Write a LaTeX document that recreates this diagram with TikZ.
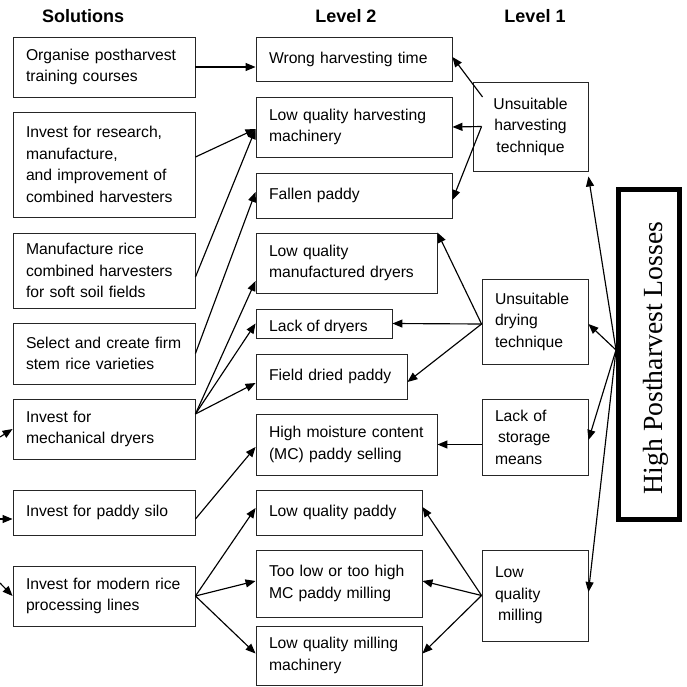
\documentclass[tikz,border=0pt]{standalone}
\usepackage{fontspec}
\setmainfont{Liberation Sans}
\newfontfamily\timesfont{Liberation Serif}
\usetikzlibrary{arrows.meta}
\begin{document}
\begin{tikzpicture}[x=1pt,y=-1pt,
  box/.style={draw=black!85, line width=0.9pt, rectangle, inner xsep=13pt, inner ysep=0pt,
    align=left, font=\fontsize{15.7}{21.5}\selectfont},
  head/.style={anchor=base, font=\bfseries\fontsize{18}{20}\selectfont},
  arr/.style={-{Triangle[length=10pt,width=8pt]}, line width=1.15pt}]
\useasboundingbox (0,0) rectangle (687,687);

% column headings
\node[head] (hsol) at (83,23) {Solutions};
\node[head] (hl2) at (346,23) {Level 2};
\node[head] (hl1) at (535,23) {Level 1};

% solutions
\node[box, minimum width=182, minimum height=60, text width=156] (org) at (104,67) {Organise postharvest\\training courses};
\node[box, minimum width=182, minimum height=105, text width=156] (res) at (104,164.5) {Invest for research,\\manufacture,\\and improvement of\\combined harvesters};
\node[box, minimum width=182, minimum height=75, text width=156] (man) at (104,270.5) {Manufacture rice\\combined harvesters\\for soft soil fields};
\node[box, minimum width=182, minimum height=61, text width=156] (sel) at (104,353.5) {Select and create firm\\stem rice varieties};
\node[box, minimum width=182, minimum height=60, text width=156] (dry) at (104,429) {Invest for\\mechanical dryers};
\node[box, minimum width=182, minimum height=45, text width=156] (silo) at (104,512.5) {Invest for paddy silo};
\node[box, minimum width=182, minimum height=60, text width=156] (proc) at (104,596) {Invest for modern rice\\processing lines};

% level 2
\node[box, minimum width=196, minimum height=44, text width=170] (wrong) at (354,59) {Wrong harvesting time};
\node[box, minimum width=196, minimum height=60, text width=170] (mach) at (354,127) {Low quality harvesting\\machinery};
\node[box, minimum width=196, minimum height=45, text width=170] (fallen) at (354,195.5) {Fallen paddy};
\node[box, minimum width=181, minimum height=60, text width=155] (mdry) at (346.5,263) {Low quality\\manufactured dryers};
\node[box, minimum width=136, minimum height=29] (lack) at (324,323.5) {};
\begin{scope}
  \clip (256,309) rectangle (392,332);
  \node[anchor=base west, inner sep=0pt, font=\fontsize{15.7}{21.5}\selectfont] (lacktxt) at (269,331) {Lack of dryers};
\end{scope}
\node[box, minimum width=151, minimum height=45, text width=125] (field) at (331.5,376.5) {Field dried paddy};
\node[box, minimum width=181, minimum height=61, text width=155] (moist) at (346.5,444.5) {High moisture content\\(MC) paddy selling};
\node[box, minimum width=166, minimum height=45, text width=140] (lqp) at (339,512.5) {Low quality paddy};
\node[box, minimum width=166, minimum height=67, text width=140] (mc) at (339,583.5) {Too low or too high\\MC paddy milling};
\node[box, minimum width=166, minimum height=59, text width=140] (lqm) at (339,655.5) {Low quality milling\\machinery};

% level 1
\node[box, minimum width=115, minimum height=89, text width=89, align=center] (harv) at (530.5,126.5) {Unsuitable\\harvesting\\technique};
\node[box, minimum width=106, minimum height=85, text width=80] (drying) at (535,321.5) {Unsuitable\\drying\\technique};
\node[box, minimum width=106, minimum height=76, text width=80] (storage) at (535,437) {Lack of\\\hspace*{3pt}storage\\means};
\node[box, minimum width=106, minimum height=91, text width=80] (milling) at (535,595.5) {Low\\quality\\\hspace*{3pt}milling};

% main problem
\node[draw=black, line width=5pt, minimum width=61, minimum height=330] (big) at (649,354.5) {};
\node[rotate=90, anchor=base, inner sep=0pt, font=\timesfont\fontsize{27.7}{30}\selectfont] (bigtxt) at (662,358) {High Postharvest Losses};

% incoming arrows from the left margin
\coordinate (inA) at (0,437);
\coordinate (inB) at (0,519);
\coordinate (inC) at (0,583);
\draw[arr] (inA) -- (dry.west);
\draw[arr] (inB) -- ([yshift=-6.5]silo.west);
\draw[arr] (inC) -- (proc.west);

% solutions to level 2
\draw[arr] (org.east) -- (org.east -| wrong.west);
\draw[arr] ([yshift=7.5]res.east) -- ([yshift=-2]mach.west);
\draw[arr] ([yshift=-6.5]man.east) -- ([yshift=-2]mach.west);
\draw[arr] (sel.east) -- ([yshift=3.5]fallen.west);
\draw[arr] ([yshift=15]dry.east) -- ([yshift=-18]mdry.west);
\draw[arr] ([yshift=15]dry.east) -- (lack.west);
\draw[arr] ([yshift=15]dry.east) -- ([yshift=-6.5]field.west);
\draw[arr] ([yshift=-6.5]silo.east) -- ([yshift=-2.5]moist.west);
\draw[arr] (proc.east) -- ([yshift=4.5]lqp.west);
\draw[arr] (proc.east) -- ([yshift=2.5]mc.west);
\draw[arr] (proc.east) -- ([yshift=2]lqm.west);

% level 1 to level 2
\draw[arr] ([xshift=10,yshift=29.5]harv.west) -- ([yshift=2]wrong.east);
\draw[arr] ([xshift=9]harv.west) -- (mach.east);
\draw[arr] ([xshift=9]harv.west) -- ([yshift=-4.5]fallen.east);
\draw[arr] ([yshift=-2.5]drying.west) -- (mdry.north east);
\draw[arr] ([yshift=-2.5]drying.west) -- (lack.east);
\draw[arr] ([yshift=-2.5]drying.west) -- ([yshift=-5.5]field.east);
\draw[arr] (moist.east -| storage.west) -- (moist.east);
\draw[arr] (milling.west) -- ([yshift=5.5]lqp.east);
\draw[arr] (milling.west) -- ([yshift=2.5]mc.east);
\draw[arr] (milling.west) -- ([yshift=2]lqm.east);

% main problem to level 1
\draw[arr] ([yshift=4.5]big.west) -- ([yshift=-5]harv.south east);
\draw[arr] ([yshift=4.5]big.west) -- ([yshift=-2.5]drying.east);
\draw[arr] ([yshift=4.5]big.west) -- ([yshift=-3]storage.east);
\draw[arr] ([yshift=4.5]big.west) -- ([yshift=3.5]milling.east);
\end{tikzpicture}
\end{document}
